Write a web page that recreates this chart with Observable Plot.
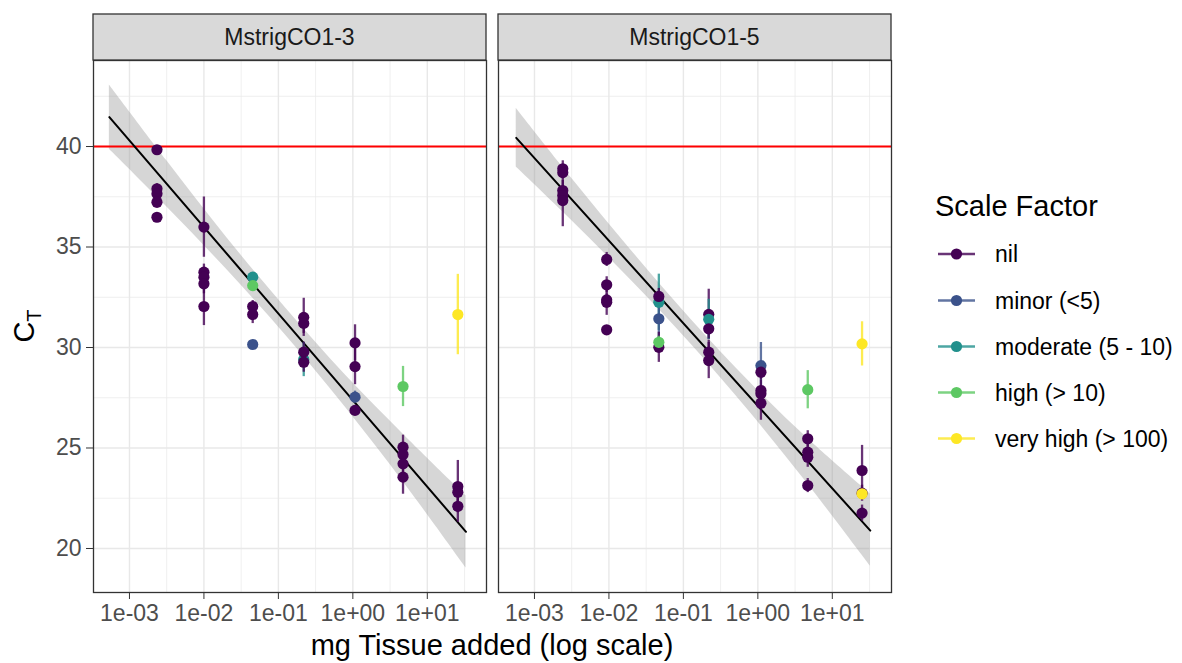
<!DOCTYPE html>
<html>
<head>
<meta charset="utf-8">
<script src="https://cdn.jsdelivr.net/npm/d3@7"></script>
<script src="https://cdn.jsdelivr.net/npm/@observablehq/plot@0.6"></script>
<style>
  html, body { margin: 0; padding: 0; background: #ffffff; }
  #wrap { position: relative; width: 1182px; height: 663px; overflow: hidden; font-family: "Liberation Sans", Arial, sans-serif; }
  .panel { position: absolute; top: 0; }
  #overlay { position: absolute; left: 0; top: 0; pointer-events: none; }
</style>
</head>
<body>
<div id="wrap"></div>
<script>
// ---------- data ----------
const panelNames = ["MstrigCO1-3", "MstrigCO1-5"];
const factorLevels = ["nil", "minor (<5)", "moderate (5 - 10)", "high (> 10)", "very high (> 100)"];
const factorColors = ["#440154", "#3B528B", "#21908C", "#5DC863", "#FDE725"];
const xTicks = [1e-3, 1e-2, 1e-1, 1, 10];
const xTickLabels = ["1e-03", "1e-02", "1e-01", "1e+00", "1e+01"];
const xMinor = [10 ** -2.5, 10 ** -1.5, 10 ** -0.5, 10 ** 0.5, 10 ** 1.5];
const yTicks = [20, 25, 30, 35, 40];
const yMinor = [22.5, 27.5, 32.5, 37.5, 42.5];
const threshold = 40;

// MstrigCO1-3 points
const co13_mg = [0.00234, 0.00234, 0.00234, 0.00234, 0.00234,
  0.0100, 0.0100, 0.0100, 0.0100, 0.0100,
  0.0452, 0.0452, 0.0452, 0.0452, 0.0452,
  0.219, 0.219, 0.219, 0.219, 0.219,
  1.07, 1.07, 1.07, 1.07,
  4.72, 4.72, 4.72, 4.72, 4.72,
  25.7, 25.7, 25.7, 25.7];
const co13_ct = [39.84, 37.9, 37.65, 37.23, 36.48,
  35.99, 33.75, 33.5, 33.17, 32.04,
  33.5, 33.08, 32.04, 31.64, 30.15,
  29.4, 31.5, 31.2, 29.77, 29.27,
  30.23, 29.05, 27.53, 26.87,
  28.06, 25.04, 24.68, 24.21, 23.55,
  31.64, 23.08, 22.8, 22.1];
const co13_sd = [0.15, 0.25, 0.3, 0.3, 0.2,
  1.5, 0.4, 0.4, 0.5, 0.95,
  0.2, 0.2, 0.3, 0.45, 0.15,
  0.85, 0.95, 0.5, 0.5, 0.5,
  0.9, 0.9, 0.3, 0.25,
  1.0, 0.6, 0.4, 0.5, 0.85,
  2.0, 1.3, 0.5, 0.8];
const co13_factor = ["nil", "nil", "nil", "nil", "nil",
  "nil", "nil", "nil", "nil", "nil",
  "moderate (5 - 10)", "high (> 10)", "nil", "nil", "minor (<5)",
  "moderate (5 - 10)", "nil", "nil", "nil", "nil",
  "nil", "nil", "minor (<5)", "nil",
  "high (> 10)", "nil", "nil", "nil", "nil",
  "very high (> 100)", "nil", "nil", "nil"];

// MstrigCO1-5 points
const co15_mg = [0.0024, 0.0024, 0.0024, 0.0024, 0.0024,
  0.00933, 0.00933, 0.00933, 0.00933, 0.00933,
  0.0468, 0.0468, 0.0468, 0.0468, 0.0468,
  0.219, 0.219, 0.219, 0.219, 0.219,
  1.10, 1.10, 1.10, 1.10, 1.10,
  4.68, 4.68, 4.68, 4.68, 4.68,
  25.1, 25.1, 25.1, 25.1, 25.1];
const co15_ct = [38.89, 38.7, 37.81, 37.56, 37.31,
  34.38, 33.12, 32.37, 32.25, 30.88,
  32.25, 32.54, 31.43, 30.01, 30.26,
  31.65, 31.4, 30.93, 29.77, 29.35,
  29.1, 28.77, 27.86, 27.7, 27.23,
  27.9, 25.46, 24.79, 24.54, 23.13,
  30.18, 23.88, 22.75, 22.72, 21.76];
const co15_sd = [0.4, 0.3, 0.5, 0.5, 1.3,
  0.35, 0.4, 0.3, 0.65, 0.15,
  1.4, 0.4, 1.1, 0.75, 0.3,
  1.25, 1.0, 0.5, 0.6, 0.9,
  1.15, 0.4, 0.5, 0.4, 0.85,
  0.95, 0.4, 0.5, 0.5, 0.35,
  1.1, 1.25, 0.4, 0.25, 0.4];
const co15_factor = ["nil", "nil", "nil", "nil", "nil",
  "nil", "nil", "nil", "nil", "nil",
  "moderate (5 - 10)", "nil", "minor (<5)", "nil", "high (> 10)",
  "nil", "moderate (5 - 10)", "nil", "nil", "nil",
  "minor (<5)", "nil", "nil", "nil", "nil",
  "high (> 10)", "nil", "nil", "nil", "nil",
  "very high (> 100)", "nil", "nil", "very high (> 100)", "nil"];

// fitted lines and confidence bands
const fit13_mg = [0.000537, 33.1];
const fit13_ct = [41.46, 20.83];
const band13_mg = [0.000537, 0.00316, 0.01995, 0.126, 0.794, 5.01, 33.1];
const band13_lo = [39.86, 37.0, 33.9, 30.6, 27.03, 23.2, 19.03];
const band13_hi = [43.06, 39.3, 35.5, 31.95, 28.63, 25.6, 22.63];

const fit15_mg = [0.000569, 32.4];
const fit15_ct = [40.43, 20.89];
const band15_mg = [0.000569, 0.00316, 0.01995, 0.126, 0.794, 5.01, 32.4];
const band15_lo = [38.98, 36.32, 33.33, 30.17, 26.75, 23.07, 19.12];
const band15_hi = [41.9, 38.42, 34.83, 31.41, 28.25, 25.37, 22.72];

// ---------- build tables ----------
const pts = (mg, ct, sd, f) => mg.map((m, i) => ({mg: m, ct: ct[i], sd: sd[i], factor: f[i]}));
const line = (mg, ct) => mg.map((m, i) => ({mg: m, ct: ct[i]}));
const band = (mg, lo, hi) => mg.map((m, i) => ({mg: m, lo: lo[i], hi: hi[i]}));

const panels = [
  {name: panelNames[0], pts: pts(co13_mg, co13_ct, co13_sd, co13_factor), fit: line(fit13_mg, fit13_ct), band: band(band13_mg, band13_lo, band13_hi)},
  {name: panelNames[1], pts: pts(co15_mg, co15_ct, co15_sd, co15_factor), fit: line(fit15_mg, fit15_ct), band: band(band15_mg, band15_lo, band15_hi)}
];

const FONT = '"Liberation Sans", Arial, sans-serif';
const xDomain = [10 ** -3.483, 10 ** 1.795];
const yDomain = [17.81, 44.28];
const PANEL_W = 393;
const panelLeft = [93, 498];

function makePanel(p, showY) {
  const ml = showY ? 93 : 2;
  const mr = 2;
  const plot = Plot.plot({
    width: ml + PANEL_W + mr,
    height: 663,
    marginLeft: ml,
    marginRight: mr,
    marginTop: 60,
    marginBottom: 71,
    style: {fontFamily: FONT, background: "transparent", overflow: "visible"},
    x: {type: "log", domain: xDomain},
    y: {domain: yDomain, axis: showY ? undefined : null},
    color: {domain: factorLevels, range: factorColors},
    marks: [
      Plot.gridX(xMinor, {stroke: "#ebebeb", strokeOpacity: 1, strokeWidth: 0.8}),
      Plot.gridY(yMinor, {stroke: "#ebebeb", strokeOpacity: 1, strokeWidth: 0.8}),
      Plot.gridX(xTicks, {stroke: "#e8e8e8", strokeOpacity: 1, strokeWidth: 1.4}),
      Plot.gridY(yTicks, {stroke: "#e8e8e8", strokeOpacity: 1, strokeWidth: 1.4}),
      Plot.areaY(p.band, {x: "mg", y1: "lo", y2: "hi", fill: "#999999", fillOpacity: 0.4, curve: "catmull-rom"}),
      Plot.ruleY([threshold], {stroke: "#ff0000", strokeWidth: 2}),
      Plot.line(p.fit, {x: "mg", y: "ct", stroke: "#000000", strokeWidth: 2}),
      Plot.ruleX(p.pts, {x: "mg", y1: d => d.ct - d.sd, y2: d => d.ct + d.sd, stroke: "factor", strokeWidth: 2.3, strokeOpacity: 0.8}),
      Plot.dot(p.pts, {x: "mg", y: "ct", fill: "factor", r: 5.6}),
      Plot.frame({stroke: "#333333", strokeWidth: 1.3}),
      Plot.axisX(xTicks, {tickFormat: d => xTickLabels[xTicks.indexOf(d)], tickSize: 7, tickPadding: 5, fontSize: 23, fill: "#4d4d4d", stroke: "#333333", label: null}),
      showY ? Plot.axisY(yTicks, {tickSize: 7, tickPadding: 5, fontSize: 23, fill: "#4d4d4d", stroke: "#333333", label: null}) : null
    ]
  });
  plot.classList.add("panel");
  plot.style.left = (panelLeft[showY ? 0 : 1] - ml) + "px";
  return plot;
}

const wrap = document.getElementById("wrap");
wrap.appendChild(makePanel(panels[0], true));
wrap.appendChild(makePanel(panels[1], false));

// ---------- overlay: strips, axis titles, legend ----------
const svg = d3.select(wrap).append("svg").attr("id", "overlay")
  .attr("width", 1182).attr("height", 663)
  .style("font-family", FONT);

panels.forEach((p, i) => {
  svg.append("rect").attr("x", panelLeft[i]).attr("y", 14).attr("width", PANEL_W).attr("height", 46)
    .attr("fill", "#d9d9d9").attr("stroke", "#333333").attr("stroke-width", 1.3);
  svg.append("text").attr("x", panelLeft[i] + PANEL_W / 2).attr("y", 37)
    .attr("text-anchor", "middle").attr("dominant-baseline", "central")
    .attr("font-size", 23).attr("fill", "#1a1a1a").text(p.name);
});

// y title C_T
const yt = svg.append("text").attr("transform", "translate(34,326) rotate(-90)")
  .attr("text-anchor", "middle").attr("font-size", 29).attr("fill", "#000");
yt.append("tspan").text("C");
yt.append("tspan").attr("font-size", 20).attr("dy", 7).text("T");

// x title
svg.append("text").attr("x", 492).attr("y", 645).attr("text-anchor", "middle")
  .attr("dominant-baseline", "central").attr("font-size", 29).attr("fill", "#000")
  .text("mg Tissue added (log scale)");

// legend
svg.append("text").attr("x", 935).attr("y", 206).attr("dominant-baseline", "central")
  .attr("font-size", 29).attr("fill", "#000").text("Scale Factor");
const legY = [254, 300.5, 346.5, 392.5, 438.5];
factorLevels.forEach((lab, i) => {
  svg.append("line").attr("x1", 938).attr("x2", 975).attr("y1", legY[i]).attr("y2", legY[i])
    .attr("stroke", factorColors[i]).attr("stroke-width", 2.3).attr("stroke-opacity", 0.8);
  svg.append("circle").attr("cx", 956.5).attr("cy", legY[i]).attr("r", 5.6).attr("fill", factorColors[i]);
  svg.append("text").attr("x", 995).attr("y", legY[i]).attr("dominant-baseline", "central")
    .attr("font-size", 23).attr("fill", "#000").text(lab);
});
</script>
</body>
</html>
